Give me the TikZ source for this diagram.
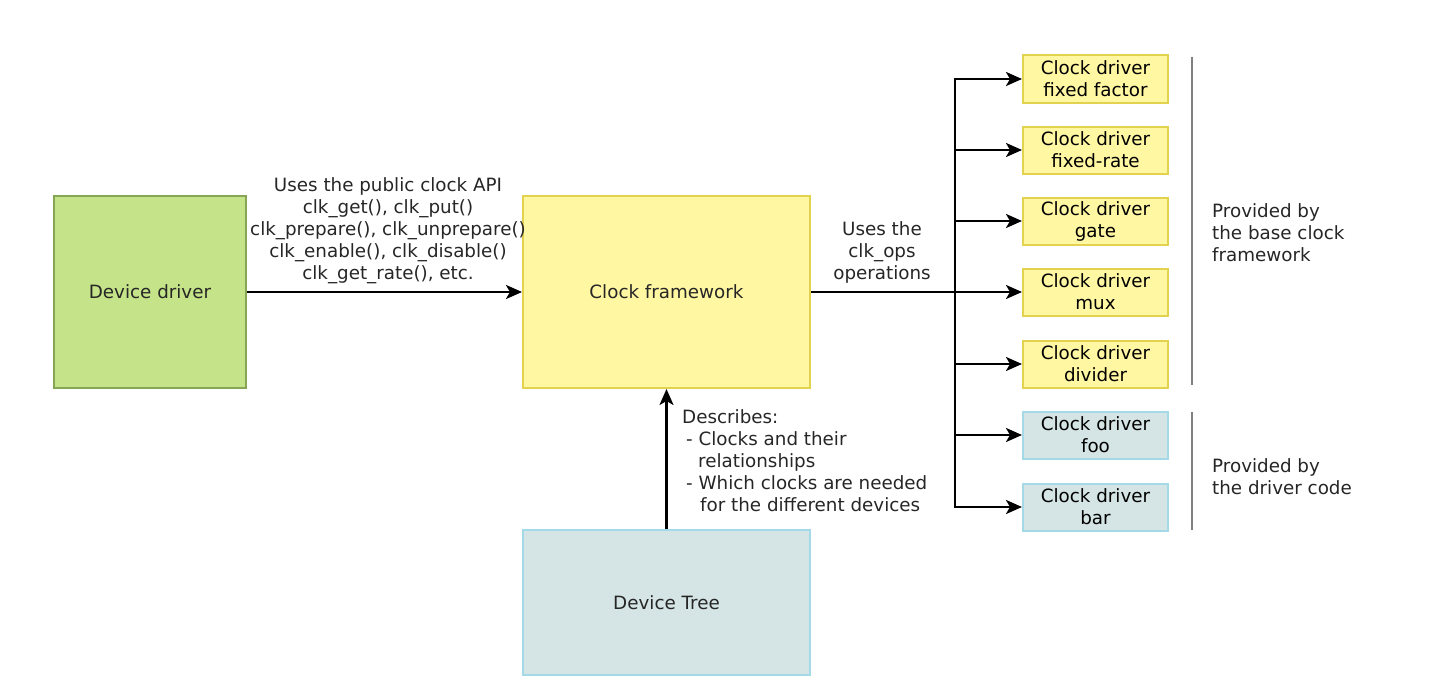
\documentclass[tikz,border=0pt]{standalone}
\usepackage{fontspec}
\setmainfont{DejaVu Sans}
\usetikzlibrary{arrows.meta}

\definecolor{drvgreen}{HTML}{C5E388}
\definecolor{drvgreenline}{HTML}{86A656}
\definecolor{fwyellow}{HTML}{FFF7A2}
\definecolor{fwyellowline}{HTML}{E3D150}
\definecolor{dtblue}{HTML}{D5E4E4}
\definecolor{dtblueline}{HTML}{A4D9E8}

\tikzset{
  bigbox/.style={draw,line width=2pt,minimum width=#1,align=center,inner sep=0pt},
  clkbox/.style={draw,line width=2pt,minimum width=145pt,minimum height=47pt,align=center,inner sep=0pt,
                 font=\fontsize{18.3}{22}\selectfont},
  basebox/.style={clkbox,fill=fwyellow,draw=fwyellowline},
  ownbox/.style={clkbox,fill=dtblue,draw=dtblueline},
  flow/.style={line width=2.5pt,-{Stealth[length=16pt,width=14pt,inset=4pt]}},
  note/.style={font=\fontsize{18.3}{22}\selectfont,inner sep=0pt,text=black!85}
}

\begin{document}
\begin{tikzpicture}[x=1pt,y=-1pt]
                \useasboundingbox (0,0) rectangle (1430,693);

                % main blocks
                \node[bigbox=192pt,minimum height=192pt,fill=drvgreen,draw=drvgreenline,note] (devdrv) at(150,292) {Device driver};
                \node[bigbox=287pt,minimum height=192pt,fill=fwyellow,draw=fwyellowline,note] (clkfw) at(666.5,292) {Clock framework};
                \node[bigbox=287pt,minimum height=145pt,fill=dtblue,draw=dtblueline,note] (devtree) at(666.5,602.5) {Device Tree};

                % clock drivers
                \node[basebox] (ffactor) at(1095.5,79) {Clock driver\\fixed factor};
                \node[basebox] (frate) at(1095.5,150) {Clock driver\\fixed-rate};
                \node[basebox] (gate) at(1095.5,221) {Clock driver\\gate};
                \node[basebox] (mux) at(1095.5,292) {Clock driver\\mux};
                \node[basebox] (divider) at(1095.5,364) {Clock driver\\divider};
                \node[ownbox] (foo) at(1095.5,435) {Clock driver\\foo};
                \node[ownbox] (bar) at(1095.5,507) {Clock driver\\bar};

                % connectors
                \draw[flow] (devdrv.east)--(clkfw.west);
                \draw[flow] (devtree.north)--(clkfw.south);
                \coordinate (bus) at(955,292);
                \draw[line width=2.5pt] (clkfw.east)--(bus);
                \foreach \n in {ffactor,frate,gate,mux,divider,foo,bar}
                    \draw[flow] (bus|-\n.west)--(\n.west);
                \draw[line width=2.5pt,line cap=rect] (bus|-ffactor.west)--(bus|-bar.west);

                % labels
                \node[note,align=center] (apitxt) at(388,231) {Uses the public clock API\\clk\_get(), clk\_put()\\clk\_prepare(), clk\_unprepare()\\clk\_enable(), clk\_disable()\\clk\_get\_rate(), etc.};
                \node[note,align=center] (opstxt) at(882,252) {Uses the\\clk\_ops\\operations};
                \node[note,align=left,anchor=north west] (dttxt) at(682,409) {Describes:\\
                    \hspace*{4pt}- Clocks and their\\
                    \hspace*{16pt}relationships\\
                    \hspace*{4pt}- Which clocks are needed\\
                    \hspace*{18pt}for the different devices};

                % groups
                \draw[gray,line width=2pt] (1192,57)--(1192,385);
                \draw[gray,line width=2pt] (1192,412)--(1192,530);
                \node[note,align=left,anchor=west] (basetxt) at(1212,233) {Provided by\\the base clock\\framework};
                \node[note,align=left,anchor=west] (drvtxt) at(1212,477) {Provided by\\the driver code};
            \end{tikzpicture}
\end{document}
